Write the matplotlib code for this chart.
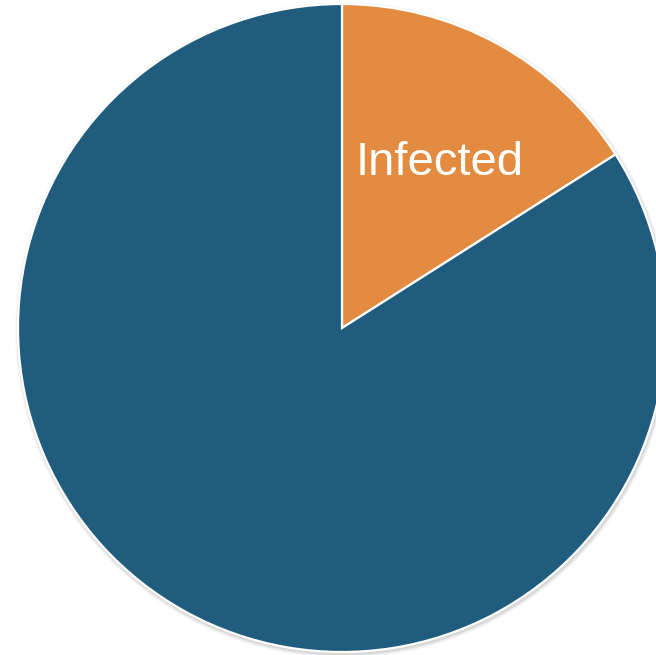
import matplotlib.pyplot as plt
from matplotlib.patches import Circle

# share of cases
labels = ['Infected', '']
shares = [16, 84]
colors = ['#E28B41', '#1F5C7E']

fig = plt.figure(figsize=(6.56, 6.55), dpi=100)
ax = fig.add_axes([0, 0, 1, 1])
ax.set_xlim(0, 656)
ax.set_ylim(0, 655)
ax.set_aspect('equal')
ax.axis('off')

cx, cy, r = 342, 327, 324

# soft grey shadow under the pie
for i, a in enumerate([0.05, 0.07, 0.09, 0.12]):
    ax.add_patch(Circle((cx + 1, cy - 2), r + 4 - i, color='#808080', alpha=a, lw=0, zorder=0))

wedges, texts = ax.pie(shares, labels=labels, colors=colors, startangle=90, counterclock=False,
                       radius=r, center=(cx, cy), labeldistance=0.585,
                       wedgeprops=dict(edgecolor='white', linewidth=1.6),
                       textprops=dict(color='white', fontsize=34, family='Liberation Sans',
                                      ha='center', va='center'))
# nudge the label a little right, like the original
x, y = texts[0].get_position()
texts[0].set_position((x + 6.5, y - 1.5))

ax.set_xlim(0, 656)
ax.set_ylim(0, 655)

fig.savefig('out.png', dpi=100)
